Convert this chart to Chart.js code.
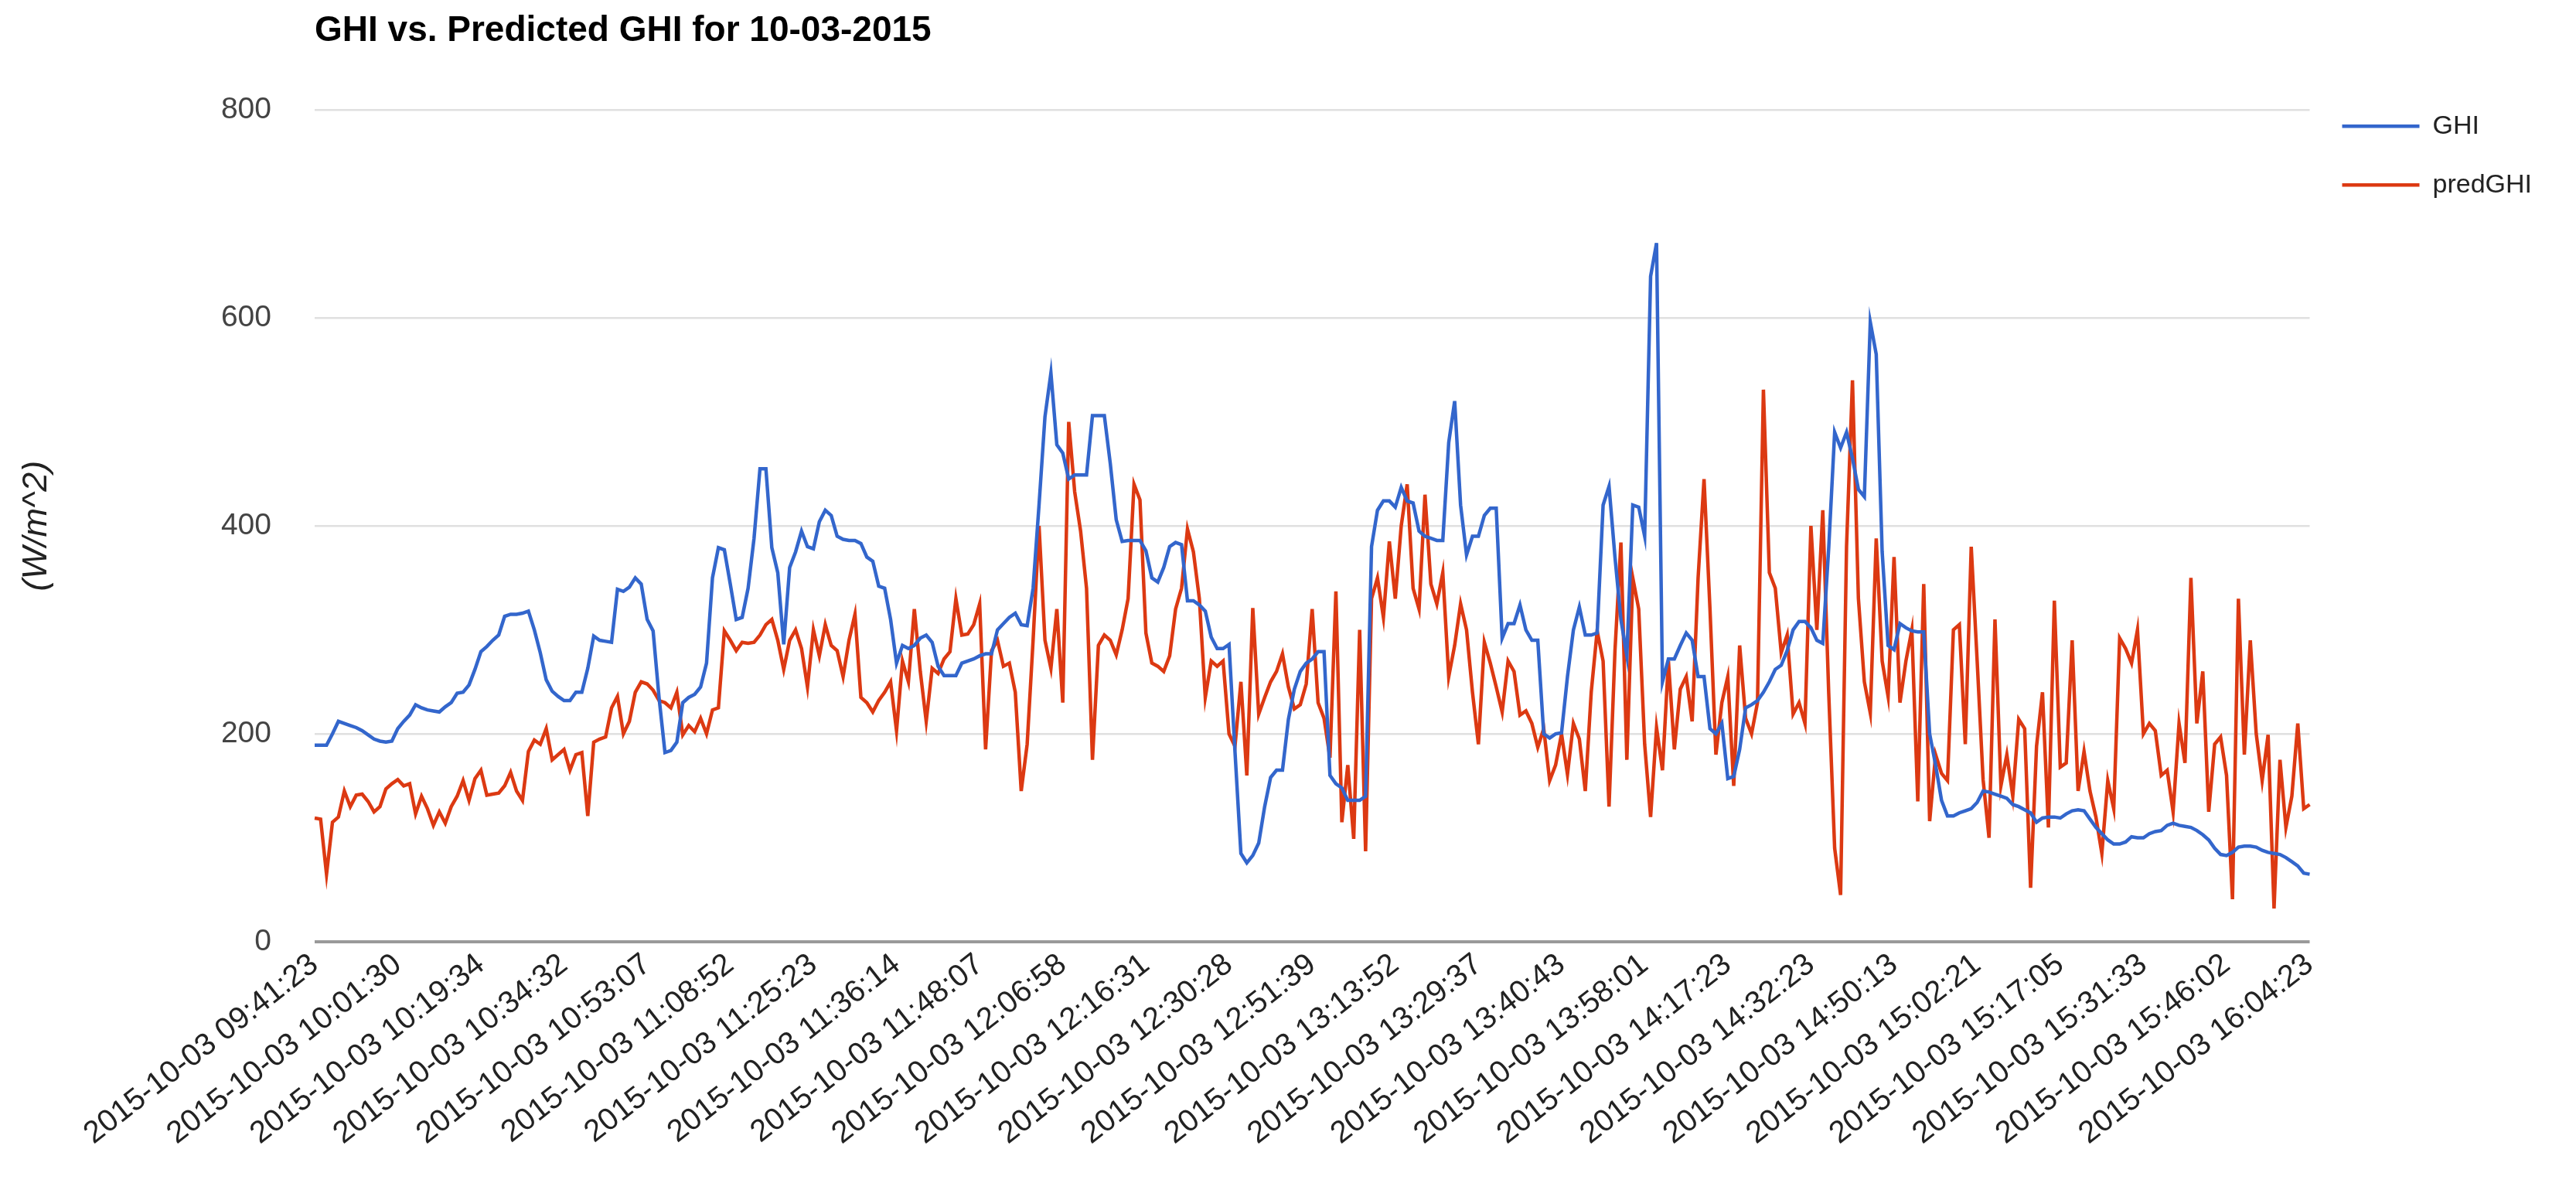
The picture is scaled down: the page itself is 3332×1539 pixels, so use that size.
<!DOCTYPE html>
<html>
<head>
<meta charset="utf-8">
<script src="https://cdn.jsdelivr.net/npm/chart.js@4.4.0/dist/chart.umd.min.js"></script>
<style>
  html, body { margin: 0; padding: 0; background: #fff; }
  #wrap { width: 3332px; height: 1539px; }
</style>
</head>
<body>
<div id="wrap"><canvas id="ghiChart"></canvas></div>
<script>
// tick labels shown every 14th sample
const tickLabels = [
  '2015-10-03 09:41:23', '2015-10-03 10:01:30', '2015-10-03 10:19:34', '2015-10-03 10:34:32',
  '2015-10-03 10:53:07', '2015-10-03 11:08:52', '2015-10-03 11:25:23', '2015-10-03 11:36:14',
  '2015-10-03 11:48:07', '2015-10-03 12:06:58', '2015-10-03 12:16:31', '2015-10-03 12:30:28',
  '2015-10-03 12:51:39', '2015-10-03 13:13:52', '2015-10-03 13:29:37', '2015-10-03 13:40:43',
  '2015-10-03 13:58:01', '2015-10-03 14:17:23', '2015-10-03 14:32:23', '2015-10-03 14:50:13',
  '2015-10-03 15:02:21', '2015-10-03 15:17:05', '2015-10-03 15:31:33', '2015-10-03 15:46:02',
  '2015-10-03 16:04:23'
];
const labelStep = 14;

const ghi = [
  189,189,189,200,212,210,208,206,203,199,195,193,192,193,205,212,218,228,225,223,222,221,226,230,239,240,247,262,279,284,290,295,313,315,315,
  316,318,300,278,252,241,236,232,232,240,240,263,294,290,289,288,339,337,341,350,344,310,299,235,182,184,192,230,235,238,245,268,350,379,
  377,344,310,312,340,388,455,455,379,355,286,360,375,395,380,378,404,415,410,390,387,386,386,383,370,366,342,340,310,268,285,282,285,292,
  295,288,265,256,256,256,268,270,272,275,277,277,300,306,312,316,305,304,340,420,505,547,478,470,445,449,449,449,506,506,506,460,406,385,
  386,386,386,376,350,346,360,380,384,382,328,328,324,318,293,282,282,286,183,85,76,83,95,130,158,165,165,214,243,260,268,272,279,279,
  160,152,148,136,136,136,140,380,415,424,424,418,437,424,422,395,390,388,386,386,480,520,420,372,390,390,410,417,417,292,306,306,324,300,
  290,290,200,196,200,201,255,300,322,295,295,297,420,438,370,310,275,420,418,390,640,672,250,272,272,285,297,290,255,255,205,200,210,157,
  159,185,225,228,232,240,250,262,266,280,300,308,308,302,290,287,379,490,475,490,465,435,428,596,565,375,285,281,306,302,299,298,298,200,
  170,136,121,121,124,126,128,134,145,144,142,140,138,132,130,127,124,115,119,120,120,119,123,126,127,126,118,110,104,98,94,94,96,101,
  100,100,104,106,107,112,114,112,111,110,107,103,98,90,84,83,86,91,92,92,91,88,86,85,84,81,77,73,66,65
];

const predGhi = [
  119,118,65,115,120,145,130,141,142,135,125,130,147,152,156,150,152,123,140,128,112,125,114,130,140,155,136,157,165,141,142,143,150,163,145,
  136,183,194,190,205,175,180,185,165,180,182,121,192,195,197,225,236,200,212,240,250,248,242,232,230,225,240,199,208,202,215,200,223,225,
  299,290,280,288,287,288,295,305,310,290,262,290,300,282,245,300,275,305,285,280,255,290,315,235,230,221,232,240,250,203,270,250,320,260,
  212,263,258,272,279,330,295,296,305,325,185,280,290,265,268,240,145,190,290,400,290,263,320,230,500,433,395,340,175,285,295,290,276,300,
  330,440,425,297,268,265,260,275,320,340,397,375,330,235,270,265,270,200,188,250,160,321,219,235,250,260,277,245,224,228,248,320,230,215,
  177,337,115,170,99,300,87,330,350,312,385,330,400,440,340,320,430,344,325,355,255,285,325,300,240,190,288,268,245,221,270,260,218,222,
  210,187,205,155,170,200,161,210,195,145,240,299,270,130,280,384,175,350,320,190,120,206,165,270,185,243,255,212,350,445,320,180,230,255,
  150,285,215,200,230,531,355,340,278,295,219,230,210,400,300,415,239,90,45,380,540,330,250,220,388,270,236,370,230,270,300,135,344,116,
  180,162,155,300,305,190,380,270,156,100,310,150,180,140,214,205,52,188,240,110,328,168,172,290,145,183,145,120,85,155,128,292,282,268,
  300,200,210,203,160,165,125,210,172,350,210,260,125,190,197,160,41,330,180,290,200,155,199,32,175,110,140,210,128,132
];

const yTicks = [0, 200, 400, 600, 800];

// category labels: only every labelStep-th sample carries a visible timestamp
const labels = ghi.map((v, i) => (i % labelStep === 0 ? tickLabels[i / labelStep] : ''));

const fontFamily = "'Liberation Sans', Arial, sans-serif";

const ctx = document.getElementById('ghiChart').getContext('2d');
new Chart(ctx, {
  type: 'line',
  data: {
    labels: labels,
    datasets: [{
      label: 'GHI',
      data: ghi,
      borderColor: '#3366cc',
      backgroundColor: '#3366cc',
      borderWidth: 4.5,
      pointRadius: 0,
      tension: 0
    }, {
      label: 'predGHI',
      data: predGhi,
      borderColor: '#dc3912',
      backgroundColor: '#dc3912',
      borderWidth: 4.5,
      pointRadius: 0,
      tension: 0
    }]
  },
  options: {
    responsive: true,
    maintainAspectRatio: false,
    animation: false,
    layout: { padding: { top: 0, right: 47, bottom: 0, left: 0 } },
    plugins: {
      title: {
        display: true,
        text: 'GHI vs. Predicted GHI for 10-03-2015',
        align: 'start',
        fullSize: false,
        color: '#000',
        font: { family: fontFamily, size: 46, weight: 'bold' },
        padding: { top: 13, bottom: 74 }
      },
      legend: {
        position: 'right',
        align: 'start',
        // blank title only pushes the entries down to the top of the plot
        title: { display: true, text: ' ', font: { size: 36 }, padding: { top: 49, bottom: 12 } },
        labels: {
          usePointStyle: true,
          pointStyle: 'line',
          pointStyleWidth: 100,
          padding: 42,
          color: '#222',
          font: { family: fontFamily, size: 34 }
        }
      },
      tooltip: { enabled: false }
    },
    scales: {
      x: {
        afterFit: scale => { scale.height = 321; },
        grid: { display: false, drawTicks: false },
        border: { display: false },
        ticks: {
          autoSkip: false,
          maxRotation: 38,
          minRotation: 38,
          padding: 6,
          color: '#222',
          font: { family: fontFamily, size: 40 },
          callback: (val, idx) => labels[idx]
        }
      },
      y: {
        min: 0,
        max: 800,
        afterFit: scale => { scale.width = 407; },
        afterBuildTicks: scale => { scale.ticks = yTicks.map(v => ({ value: v })); },
        grid: {
          drawTicks: false,
          lineWidth: ctx => (ctx.tick && ctx.tick.value === 0 ? 4 : 2.5),
          color: ctx => (ctx.tick && ctx.tick.value === 0 ? '#999' : '#e0e0e0')
        },
        border: { display: false },
        ticks: {
          padding: 56,
          color: '#444',
          font: { family: fontFamily, size: 39 }
        },
        title: {
          display: true,
          text: '(W/m^2)',
          color: '#222',
          padding: { top: 20, bottom: 0 },
          font: { family: fontFamily, size: 45, style: 'italic' }
        }
      }
    }
  }
});
</script>
</body>
</html>
